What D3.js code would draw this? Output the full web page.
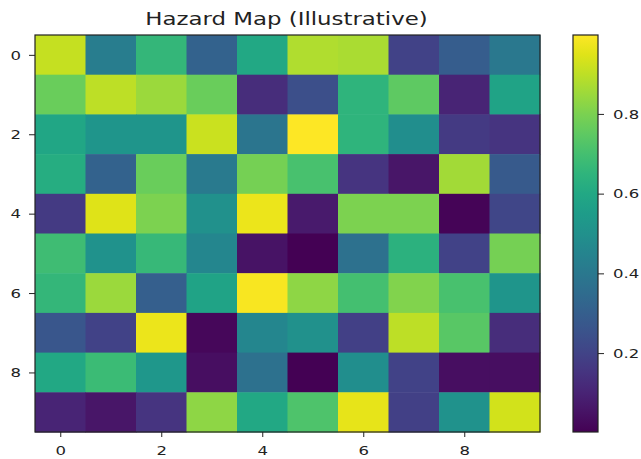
<!DOCTYPE html>
<html>
<head>
<meta charset="utf-8">
<script src="https://cdn.jsdelivr.net/npm/d3@7"></script>
<style>
  body { margin: 0; background: #fff; }
  svg text { font-family: "DejaVu Sans", sans-serif; fill: #222; }
</style>
</head>
<body>
<div id="chart"></div>
<script>
// 行列标签
var rowLabels = [0, 1, 2, 3, 4, 5, 6, 7, 8, 9];
var colLabels = [0, 1, 2, 3, 4, 5, 6, 7, 8, 9];
var axisTicks = [0, 2, 4, 6, 8];
var colorTicks = [0.2, 0.4, 0.6, 0.8];

// 每一行的值
var row0 = [0.91, 0.42, 0.66, 0.31, 0.60, 0.88, 0.87, 0.20, 0.29, 0.40];
var row1 = [0.77, 0.90, 0.85, 0.77, 0.13, 0.24, 0.65, 0.75, 0.10, 0.58];
var row2 = [0.59, 0.52, 0.52, 0.92, 0.39, 0.998, 0.65, 0.49, 0.17, 0.15];
var row3 = [0.62, 0.31, 0.77, 0.41, 0.79, 0.71, 0.15, 0.06, 0.86, 0.28];
var row4 = [0.17, 0.95, 0.80, 0.50, 0.97, 0.07, 0.80, 0.80, 0.01, 0.21];
var row5 = [0.69, 0.51, 0.67, 0.46, 0.05, 0.002, 0.37, 0.64, 0.20, 0.79];
var row6 = [0.66, 0.85, 0.30, 0.58, 0.99, 0.83, 0.70, 0.81, 0.71, 0.52];
var row7 = [0.27, 0.20, 0.97, 0.02, 0.46, 0.50, 0.19, 0.90, 0.74, 0.13];
var row8 = [0.60, 0.68, 0.53, 0.04, 0.37, 0.004, 0.49, 0.20, 0.04, 0.04];
var row9 = [0.10, 0.06, 0.15, 0.83, 0.60, 0.72, 0.96, 0.19, 0.51, 0.93];
var grid = [row0, row1, row2, row3, row4, row5, row6, row7, row8, row9];

var width = 641, height = 459;
var mLeft = 35, mTop = 35, plotW = 505, plotH = 397;
var stretch = 1.27; // 原图文字被横向拉宽了

var svg = d3.select("#chart").append("svg")
    .attr("width", width)
    .attr("height", height);

// 文字横向拉伸，围绕自身 x 位置
function widen(sel) {
    sel.each(function () {
        var t = d3.select(this);
        var ax = +t.attr("x") || 0;
        t.attr("transform", "translate(" + ax + ",0)scale(" + stretch + ",1)translate(" + (-ax) + ",0)");
    });
}

var cells = [];
grid.forEach(function (row, i) {
    row.forEach(function (v, j) {
        cells.push({ r: rowLabels[i], c: colLabels[j], v: v });
    });
});

var vmin = d3.min(cells, function (d) { return d.v; });
var vmax = d3.max(cells, function (d) { return d.v; });
var color = d3.scaleSequential(d3.interpolateViridis).domain([vmin, vmax]);

// 连续坐标，像 imshow 那样每格以整数为中心
var x = d3.scaleLinear().domain([-0.5, 9.5]).range([mLeft, mLeft + plotW]);
var y = d3.scaleLinear().domain([-0.5, 9.5]).range([mTop, mTop + plotH]);

svg.append("g")
    .selectAll("rect")
    .data(cells)
    .enter().append("rect")
    .attr("x", function (d) { return x(d.c - 0.5); })
    .attr("y", function (d) { return y(d.r - 0.5); })
    .attr("width", x(1) - x(0) + 0.5)
    .attr("height", y(1) - y(0) + 0.5)
    .attr("fill", function (d) { return color(d.v); });

svg.append("rect")
    .attr("x", mLeft).attr("y", mTop)
    .attr("width", plotW).attr("height", plotH)
    .attr("fill", "none").attr("stroke", "#222").attr("stroke-width", 1.2);

var xAxis = svg.append("g")
    .attr("transform", "translate(0," + (mTop + plotH) + ")")
    .call(d3.axisBottom(x).tickValues(axisTicks).tickSize(5).tickPadding(9));
var yAxis = svg.append("g")
    .attr("transform", "translate(" + mLeft + ",0)")
    .call(d3.axisLeft(y).tickValues(axisTicks).tickSize(6).tickPadding(8));
[xAxis, yAxis].forEach(function (a) {
    a.select(".domain").remove();
    a.selectAll("text").style("font-size", "13px").attr("fill", "#222").call(widen);
    a.selectAll("line").attr("stroke", "#222");
});

svg.append("text")
    .attr("x", mLeft + plotW / 2 - 1)
    .attr("y", 25)
    .attr("text-anchor", "middle")
    .style("font-size", "18px")
    .text("Hazard Map (Illustrative)")
    .call(widen);

// 颜色条
var cbX = 573, cbW = 25;
var cbScale = d3.scaleLinear().domain([vmin, vmax]).range([mTop + plotH, mTop]);
var defs = svg.append("defs");
var grad = defs.append("linearGradient")
    .attr("id", "cbgrad")
    .attr("x1", "0").attr("y1", "1").attr("x2", "0").attr("y2", "0");
d3.range(0, 1.0001, 0.05).forEach(function (t) {
    grad.append("stop")
        .attr("offset", t)
        .attr("stop-color", d3.interpolateViridis(t));
});
svg.append("rect")
    .attr("x", cbX).attr("y", mTop)
    .attr("width", cbW).attr("height", plotH)
    .attr("fill", "url(#cbgrad)")
    .attr("stroke", "#222").attr("stroke-width", 1.2);

var cAxis = svg.append("g")
    .attr("transform", "translate(" + (cbX + cbW) + ",0)")
    .call(d3.axisRight(cbScale).tickValues(colorTicks).tickFormat(d3.format(".1f")).tickSize(6).tickPadding(9));
cAxis.select(".domain").remove();
cAxis.selectAll("text").style("font-size", "13px").attr("fill", "#222").call(widen);
cAxis.selectAll("line").attr("stroke", "#222");
</script>
</body>
</html>
